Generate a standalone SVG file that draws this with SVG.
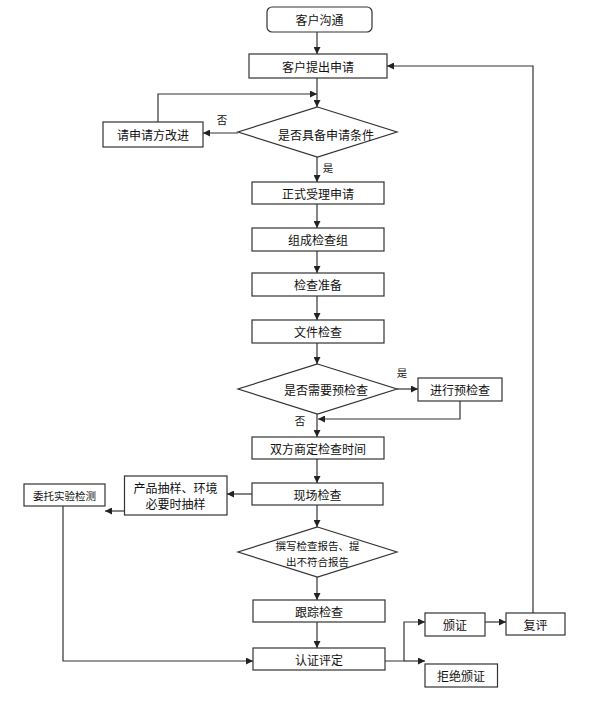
<svg xmlns="http://www.w3.org/2000/svg" width="598" height="704" viewBox="0 0 598 704">
<defs>
<marker id="arr" viewBox="0 0 8 8" refX="8" refY="4" markerWidth="7" markerHeight="7" markerUnits="userSpaceOnUse" orient="auto">
<path d="M0,0 L8,4 L0,8 Z" fill="#222"/>
</marker>
<style>
.b{fill:#fff;stroke:#333;stroke-width:1.2}
.t{font-family:"Noto Sans CJK SC","Liberation Sans",sans-serif;font-size:12px;fill:#111;text-anchor:middle;dominant-baseline:central}
.s{font-size:10.5px}
.c{fill:none;stroke:#333;stroke-width:1.2}
.a{marker-end:url(#arr)}
</style>
</defs>
<rect width="598" height="704" fill="#fff"/>
<g id="connectors">
<path class="c a" d="M317,32 V54"/>
<path class="c a" d="M317,78 V107"/>
<path class="c a" d="M238,133 H203"/>
<path class="c a" d="M158,122 V94 H317"/>
<path class="c a" d="M317,157 V182"/>
<path class="c a" d="M317,204 V228"/>
<path class="c a" d="M317,251 V273"/>
<path class="c a" d="M317,296 V320"/>
<path class="c a" d="M317,343 V364"/>
<path class="c a" d="M397,389 H418"/>
<path class="c a" d="M460,401 V419 H318"/>
<path class="c a" d="M317,414 V437"/>
<path class="c a" d="M317,459 V483"/>
<path class="c a" d="M252,494 H227"/>
<path class="c a" d="M124,511 H105"/>
<path class="c a" d="M63,506 V661 H253"/>
<path class="c a" d="M317,505 V527"/>
<path class="c a" d="M317,577 V600"/>
<path class="c a" d="M317,622 V648"/>
<path class="c a" d="M385,661 H404 V622 H425"/>
<path class="c a" d="M404,661 H425"/>
<path class="c a" d="M485,622 H506"/>
<path class="c a" d="M533,613 V66 H387"/>
<text class="t s" x="222" y="119">否</text>
<text class="t s" x="328" y="167">是</text>
<text class="t s" x="402" y="372">是</text>
<text class="t s" x="300" y="420">否</text>
</g>
<g id="n1"><rect class="b" x="267" y="7" width="105" height="25" rx="5"/><text class="t" x="319.5" y="19.5">客户沟通</text></g>
<g id="n2"><rect class="b" x="249" y="54" width="138" height="24"/><text class="t" x="318" y="66">客户提出申请</text></g>
<g id="n3"><path class="b" d="M317.5,107 L397,132 L317.5,157 L238,132 Z"/><text class="t" x="326" y="134">是否具备申请条件</text></g>
<g id="n4"><rect class="b" x="103" y="122" width="100" height="25"/><text class="t" x="153" y="134.5">请申请方改进</text></g>
<g id="n5"><rect class="b" x="252" y="182" width="132" height="22"/><text class="t" x="318" y="193">正式受理申请</text></g>
<g id="n6"><rect class="b" x="252" y="228" width="132" height="23"/><text class="t" x="318" y="239.5">组成检查组</text></g>
<g id="n7"><rect class="b" x="252" y="273" width="132" height="23"/><text class="t" x="318" y="284.5">检查准备</text></g>
<g id="n8"><rect class="b" x="252" y="320" width="132" height="23"/><text class="t" x="318" y="331.5">文件检查</text></g>
<g id="n9"><path class="b" d="M317.5,364 L397,389 L317.5,414 L238,389 Z"/><text class="t" x="326" y="389">是否需要预检查</text></g>
<g id="n10"><rect class="b" x="418" y="378" width="84" height="23"/><text class="t" x="460" y="389.5">进行预检查</text></g>
<g id="n11"><rect class="b" x="252" y="437" width="132" height="22"/><text class="t" x="318" y="448">双方商定检查时间</text></g>
<g id="n12"><rect class="b" x="252" y="483" width="131" height="22"/><text class="t" x="317.5" y="494">现场检查</text></g>
<g id="n13"><rect class="b" x="124.5" y="476" width="102.5" height="39"/><text class="t" x="175.5" y="487.5">产品抽样、环境</text><text class="t" x="175.5" y="503.5">必要时抽样</text></g>
<g id="n14"><rect class="b" x="24" y="484" width="81" height="22"/><text class="t s" x="64.5" y="495">委托实验检测</text></g>
<g id="n15"><path class="b" d="M317.5,527 L397,552 L317.5,577 L238,552 Z"/><text class="t s" x="317.5" y="545">撰写检查报告、提</text><text class="t s" x="317.5" y="561">出不符合报告</text></g>
<g id="n16"><rect class="b" x="253" y="600" width="132" height="22"/><text class="t" x="319" y="611">跟踪检查</text></g>
<g id="n17"><rect class="b" x="253" y="648" width="132" height="22"/><text class="t" x="319" y="659">认证评定</text></g>
<g id="n18"><rect class="b" x="425" y="613" width="60" height="23"/><text class="t" x="455" y="624.5">颁证</text></g>
<g id="n19"><rect class="b" x="506" y="613" width="59" height="22"/><text class="t" x="535.5" y="624">复评</text></g>
<g id="n20"><rect class="b" x="425" y="664" width="72.5" height="23"/><text class="t" x="461" y="675.5">拒绝颁证</text></g>
</svg>
